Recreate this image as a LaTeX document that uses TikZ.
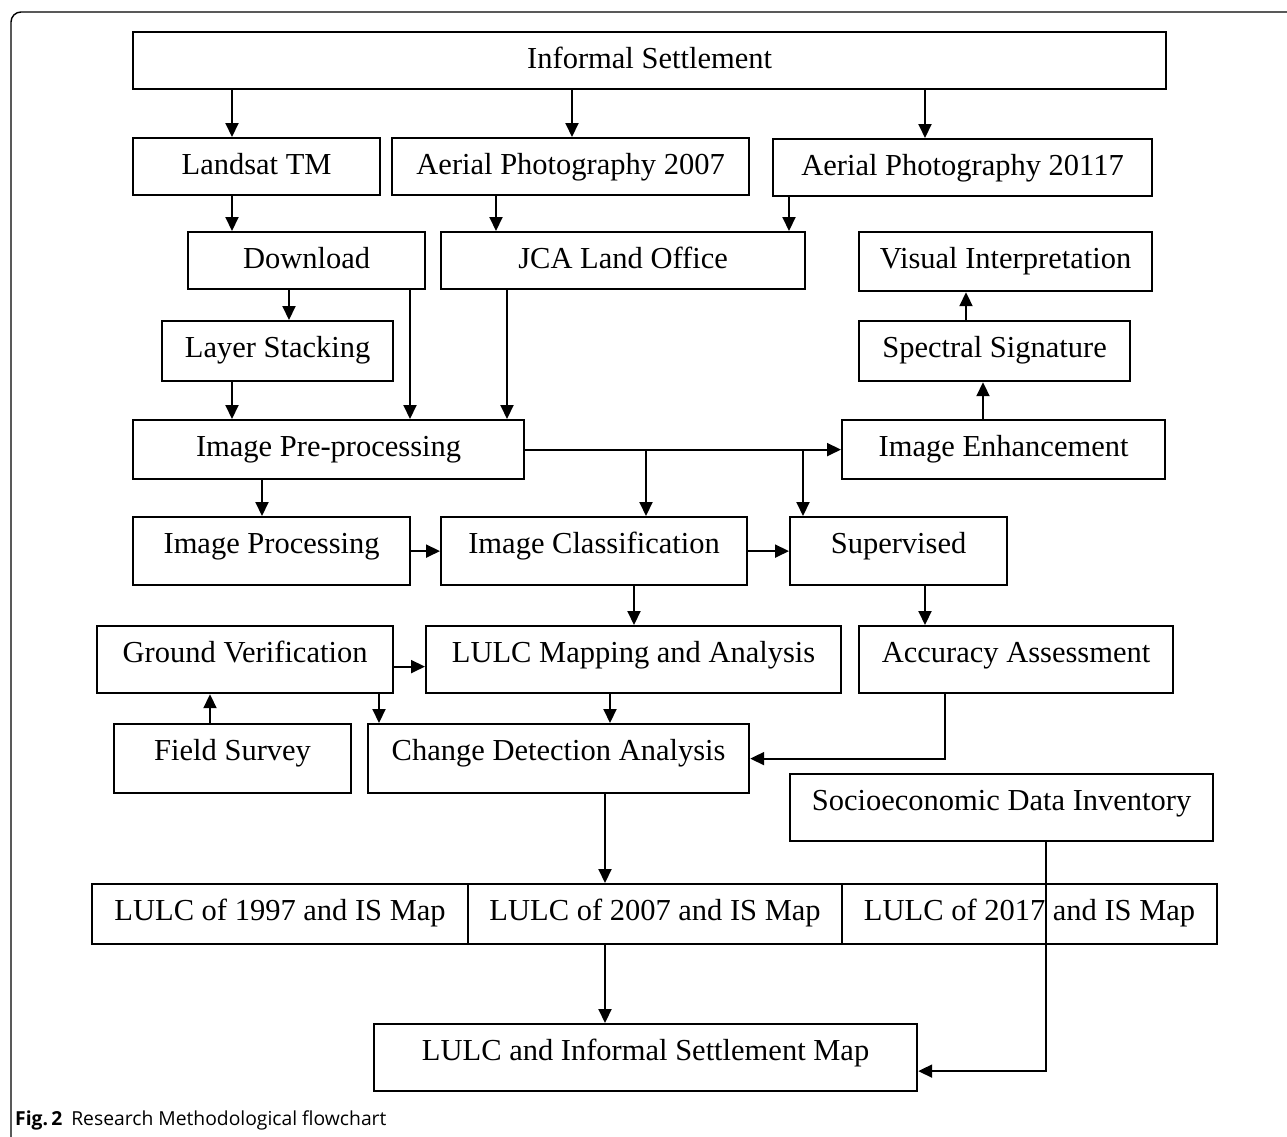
\documentclass[tikz,border=0pt]{standalone}
\usepackage{fontspec}
\setmainfont{Liberation Serif}
\newfontfamily\capfont{Open Sans}
\usetikzlibrary{arrows.meta}

\tikzset{
  box/.style 2 args={draw, line width=2.2pt, anchor=north west, inner sep=0pt,
    minimum width=#1, text height=36pt, text depth=#2,
    font=\fontsize{30.5pt}{36pt}\selectfont},
  arr/.style={line width=2pt, -{Triangle[width=13pt,length=14pt]}},
}

\begin{document}
\begin{tikzpicture}[x=1pt,y=-1pt]
    \useasboundingbox (0,0) rectangle (1287,1136);
    % Frame
    \draw[line width=1.4pt, rounded corners=10pt] (40,1147) -- (11,1147) -- (11,12) -- (1300,12);
    % Sources
    \node[box={1033pt}{21pt}] (informal) at (132,31) {Informal Settlement};
    \node[box={247pt}{21pt}] (landsat) at (132,137) {Landsat TM};
    \node[box={357pt}{21pt}] (aerial07) at (391,137) {Aerial Photography 2007};
    \node[box={379pt}{21pt}] (aerial17) at (772,138) {Aerial Photography 20117};
    \node[box={237pt}{21pt}] (download) at (187,231) {Download};
    \node[box={364pt}{21pt}] (jca) at (440,231) {JCA Land Office};
    \node[box={293pt}{23pt}] (visual) at (858,231) {Visual Interpretation};
    \node[box={231pt}{24pt}] (layer) at (161,320) {Layer Stacking};
    \node[box={271pt}{24pt}] (spectral) at (858,320) {Spectral Signature};
    % Processing
    \node[box={391pt}{23pt}] (preproc) at (132,419) {Image Pre-processing};
    \node[box={323pt}{23pt}] (enhance) at (841,419) {Image Enhancement};
    \node[box={277pt}{32pt}] (procimg) at (132,516) {Image Processing};
    \node[box={306pt}{32pt}] (classif) at (440,516) {Image Classification};
    \node[box={217pt}{32pt}] (supervised) at (789,516) {Supervised};
    \node[box={296pt}{31pt}] (ground) at (96,625) {Ground Verification};
    \node[box={415pt}{31pt}] (lulcmap) at (425,625) {LULC Mapping and Analysis};
    \node[box={314pt}{31pt}] (accuracy) at (858,625) {Accuracy Assessment};
    \node[box={237pt}{33pt}] (field) at (113,723) {Field Survey};
    \node[box={381pt}{33pt}] (change) at (367,723) {Change Detection Analysis};
    \node[box={423pt}{31pt}] (socio) at (789,773) {Socioeconomic Data Inventory};
    % Outputs
    \node[box={376pt}{24pt}] (lulc97) at (91,883) {LULC of 1997 and IS Map};
    \node[box={374pt}{24pt}] (lulc07) at (467,883) {LULC of 2007 and IS Map};
    \node[box={375pt}{24pt}] (lulc17) at (841,883) {LULC of 2017 and IS Map};
    \node[box={543pt}{31pt}] (final) at (373,1023) {LULC and Informal Settlement Map};
    % Arrows
    \draw[arr] (232,0 |- informal.south) -- (232,0 |- landsat.north);
    \draw[arr] (572,0 |- informal.south) -- (572,0 |- aerial07.north);
    \draw[arr] (925,0 |- informal.south) -- (925,0 |- aerial17.north);
    \draw[arr] (232,0 |- landsat.south) -- (232,0 |- download.north);
    \draw[arr] (496,0 |- aerial07.south) -- (496,0 |- jca.north);
    \draw[arr] (789,0 |- aerial17.south) -- (789,0 |- jca.north);
    \draw[arr] (289,0 |- download.south) -- (289,0 |- layer.north);
    \draw[arr] (410,0 |- download.south) -- (410,0 |- preproc.north);
    \draw[arr] (507,0 |- jca.south) -- (507,0 |- preproc.north);
    \draw[arr] (232,0 |- layer.south) -- (232,0 |- preproc.north);
    \draw[arr] (preproc.east) -- (enhance.west);
    \draw[arr] (646,0 |- preproc.east) -- (646,0 |- classif.north);
    \draw[arr] (803,0 |- preproc.east) -- (803,0 |- supervised.north);
    \draw[arr] (983,0 |- enhance.north) -- (983,0 |- spectral.south);
    \draw[arr] (966,0 |- spectral.north) -- (966,0 |- visual.south);
    \draw[arr] (262,0 |- preproc.south) -- (262,0 |- procimg.north);
    \draw[arr] (procimg.east) -- (classif.west);
    \draw[arr] (classif.east) -- (supervised.west);
    \draw[arr] (634,0 |- classif.south) -- (634,0 |- lulcmap.north);
    \draw[arr] (925,0 |- supervised.south) -- (925,0 |- accuracy.north);
    \draw[arr] ([yshift=-7pt]ground.east) -- ([yshift=-7pt]ground.east -| lulcmap.west);
    \draw[arr] (379,0 |- ground.south) -- (379,0 |- change.north);
    \draw[arr] (610,0 |- lulcmap.south) -- (610,0 |- change.north);
    \draw[arr] (210,0 |- field.north) -- (210,0 |- ground.south);
    \draw[arr] (945,0 |- accuracy.south) |- (change.east);
    \draw[arr] (605,0 |- change.south) -- (605,0 |- lulc07.north);
    \draw[arr] (605,0 |- lulc07.south) -- (605,0 |- final.north);
    \draw[arr] (1046,0 |- socio.south) |- ([yshift=-13.5pt]final.east);
    % Caption
    \node[anchor=base west, inner sep=0pt, font=\capfont\fontsize{19.3pt}{22pt}\selectfont] (caption) at (15,1125)
      {\textbf{Fig.\,2}\hspace{9pt}Research Methodological flowchart};
\end{tikzpicture}
\end{document}
